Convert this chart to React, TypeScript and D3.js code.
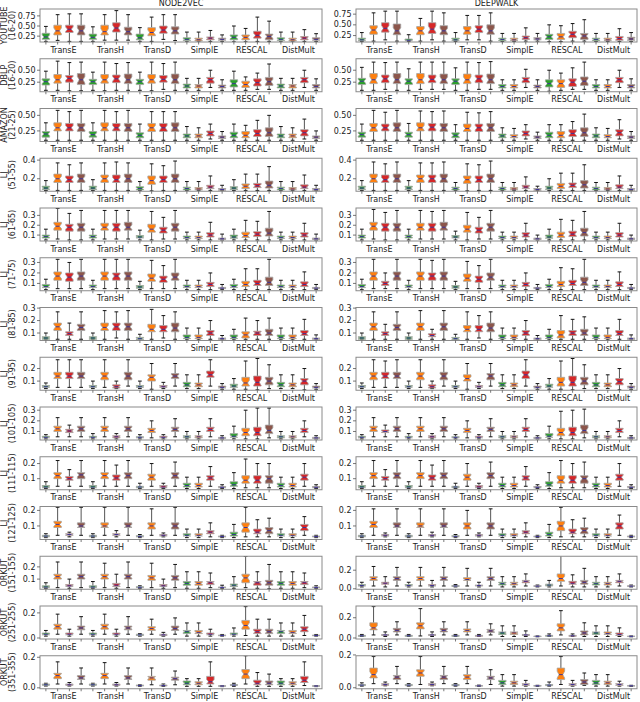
import React from "react";
import * as d3 from "d3";

type Stat = [number, number, number, number, number]; // [whisker low, q1, median, q3, whisker high]

const COLUMN_TITLES = ["NODE2VEC", "DEEPWALK"];
const METHODS = ["TransE", "TransH", "TransD", "SimplE", "RESCAL", "DistMult"];
const ROW_LABELS: [string, string][] = [
  ["YOUTUBE", "(16-20)"], ["DBLP", "(16-20)"], ["AMAZON", "(21-25)"],
  ["LJ", "(51-55)"], ["LJ", "(61-65)"], ["LJ", "(71-75)"], ["LJ", "(81-85)"],
  ["LJ", "(91-95)"], ["LJ", "(101-105)"], ["LJ", "(111-115)"], ["LJ", "(121-125)"],
  ["ORKUT", "(151-155)"], ["ORKUT", "(251-255)"], ["ORKUT", "(351-355)"],
];

// y tick values per row: [node2vec, deepwalk]
const Y_TICKS: [number[], number[]][] = [
  [[0.25, 0.5, 0.75], [0.25, 0.5, 0.75]],
  [[0.25, 0.5], [0.25, 0.5]],
  [[0.25, 0.5], [0.25, 0.5]],
  [[0.2, 0.4], [0.2, 0.4]],
  [[0.1, 0.2, 0.3], [0.1, 0.2, 0.3]],
  [[0.1, 0.2, 0.3], [0.1, 0.2, 0.3]],
  [[0.1, 0.2, 0.3], [0.1, 0.2, 0.3]],
  [[0.1, 0.2], [0.1, 0.2]],
  [[0.1, 0.2, 0.3], [0.1, 0.2, 0.3]],
  [[0.1, 0.2], [0.1, 0.2]],
  [[0.1, 0.2], [0.1, 0.2]],
  [[0.1, 0.2], [0.0, 0.2]],
  [[0.0, 0.2], [0.0, 0.2]],
  [[0.0, 0.2], [0.0, 0.2]],
];
const Y_DOMAINS: [[number, number], [number, number]][] = [
  [[0.105, 0.92], [0.1, 0.87]],
  [[0.05, 0.74], [0.05, 0.74]],
  [[0.08, 0.61], [0.08, 0.61]],
  [[0.066, 0.42], [0.066, 0.42]],
  [[0.04, 0.375], [0.04, 0.375]],
  [[0.03, 0.345], [0.03, 0.345]],
  [[0.04, 0.305], [0.04, 0.305]],
  [[0.027, 0.29], [0.027, 0.29]],
  [[0.02, 0.33], [0.02, 0.33]],
  [[0.027, 0.245], [0.027, 0.245]],
  [[0.013, 0.225], [0.013, 0.225]],
  [[0.017, 0.287], [-0.005, 0.35]],
  [[-0.008, 0.255], [-0.01, 0.316]],
  [[-0.006, 0.21], [-0.006, 0.195]],
];

// ---- box statistics, 24 boxes per panel (6 methods x 4 variants) ----
const youtubeN2V: Stat[] = [
  [0.12, 0.17, 0.23, 0.32, 0.49], [0.145, 0.28, 0.38, 0.52, 0.78], [0.12, 0.34, 0.42, 0.52, 0.8], [0.12, 0.28, 0.38, 0.52, 0.8],
  [0.12, 0.17, 0.22, 0.3, 0.48], [0.15, 0.28, 0.36, 0.52, 0.78], [0.15, 0.35, 0.45, 0.58, 0.88], [0.15, 0.28, 0.36, 0.47, 0.78],
  [0.12, 0.16, 0.21, 0.3, 0.46], [0.12, 0.26, 0.34, 0.46, 0.72], [0.17, 0.32, 0.4, 0.5, 0.78], [0.14, 0.3, 0.38, 0.48, 0.78],
  [0.11, 0.14, 0.17, 0.21, 0.35], [0.11, 0.13, 0.16, 0.2, 0.35], [0.12, 0.16, 0.2, 0.23, 0.39], [0.12, 0.15, 0.17, 0.2, 0.28],
  [0.11, 0.16, 0.22, 0.28, 0.5], [0.11, 0.16, 0.22, 0.28, 0.44], [0.12, 0.2, 0.27, 0.37, 0.72], [0.12, 0.16, 0.24, 0.3, 0.62],
  [0.11, 0.14, 0.17, 0.21, 0.35], [0.11, 0.13, 0.16, 0.2, 0.35], [0.12, 0.16, 0.2, 0.24, 0.41], [0.12, 0.15, 0.17, 0.21, 0.31],
];
const youtubeDW: Stat[] = [
  [0.11, 0.13, 0.15, 0.19, 0.32], [0.12, 0.28, 0.38, 0.48, 0.78], [0.15, 0.33, 0.42, 0.55, 0.82], [0.12, 0.27, 0.36, 0.52, 0.82],
  [0.11, 0.13, 0.14, 0.17, 0.27], [0.12, 0.27, 0.36, 0.46, 0.65], [0.15, 0.3, 0.4, 0.55, 0.82], [0.12, 0.27, 0.36, 0.48, 0.78],
  [0.11, 0.13, 0.15, 0.19, 0.32], [0.15, 0.28, 0.36, 0.46, 0.72], [0.15, 0.32, 0.4, 0.48, 0.72], [0.12, 0.28, 0.36, 0.5, 0.78],
  [0.11, 0.13, 0.16, 0.19, 0.3], [0.11, 0.13, 0.15, 0.19, 0.3], [0.12, 0.16, 0.2, 0.24, 0.43], [0.12, 0.15, 0.17, 0.2, 0.3],
  [0.11, 0.16, 0.22, 0.28, 0.5], [0.11, 0.16, 0.22, 0.3, 0.48], [0.12, 0.2, 0.28, 0.35, 0.53], [0.12, 0.16, 0.24, 0.3, 0.62],
  [0.11, 0.13, 0.16, 0.19, 0.3], [0.11, 0.13, 0.15, 0.19, 0.3], [0.11, 0.14, 0.18, 0.23, 0.41], [0.11, 0.14, 0.17, 0.21, 0.32],
];
const dblpN2V: Stat[] = [
  [0.08, 0.19, 0.26, 0.32, 0.48], [0.08, 0.23, 0.3, 0.41, 0.69], [0.07, 0.25, 0.33, 0.39, 0.66], [0.07, 0.2, 0.3, 0.43, 0.67],
  [0.08, 0.2, 0.26, 0.31, 0.46], [0.07, 0.23, 0.3, 0.41, 0.67], [0.08, 0.24, 0.32, 0.4, 0.64], [0.08, 0.22, 0.3, 0.42, 0.66],
  [0.08, 0.2, 0.26, 0.31, 0.46], [0.07, 0.23, 0.3, 0.41, 0.67], [0.1, 0.25, 0.31, 0.39, 0.64], [0.08, 0.22, 0.3, 0.42, 0.67],
  [0.08, 0.13, 0.17, 0.21, 0.33], [0.08, 0.13, 0.17, 0.2, 0.33], [0.14, 0.23, 0.3, 0.35, 0.5], [0.08, 0.13, 0.16, 0.19, 0.3],
  [0.08, 0.15, 0.22, 0.3, 0.48], [0.08, 0.14, 0.2, 0.27, 0.36], [0.1, 0.17, 0.24, 0.32, 0.44], [0.1, 0.18, 0.26, 0.35, 0.63],
  [0.08, 0.13, 0.17, 0.21, 0.33], [0.08, 0.13, 0.17, 0.2, 0.33], [0.14, 0.24, 0.3, 0.35, 0.5], [0.08, 0.13, 0.16, 0.2, 0.32],
];
const dblpDW: Stat[] = [
  [0.08, 0.2, 0.27, 0.33, 0.56], [0.08, 0.22, 0.3, 0.43, 0.67], [0.1, 0.24, 0.32, 0.4, 0.66], [0.08, 0.22, 0.3, 0.43, 0.67],
  [0.08, 0.2, 0.27, 0.32, 0.53], [0.1, 0.22, 0.3, 0.43, 0.67], [0.1, 0.24, 0.31, 0.4, 0.67], [0.1, 0.22, 0.3, 0.42, 0.67],
  [0.08, 0.2, 0.27, 0.32, 0.55], [0.08, 0.22, 0.3, 0.42, 0.67], [0.1, 0.24, 0.32, 0.4, 0.66], [0.1, 0.22, 0.3, 0.42, 0.68],
  [0.08, 0.13, 0.16, 0.2, 0.3], [0.08, 0.13, 0.16, 0.2, 0.3], [0.14, 0.24, 0.3, 0.35, 0.52], [0.08, 0.13, 0.16, 0.19, 0.3],
  [0.06, 0.15, 0.22, 0.3, 0.5], [0.08, 0.14, 0.22, 0.3, 0.44], [0.1, 0.16, 0.25, 0.32, 0.55], [0.1, 0.18, 0.27, 0.36, 0.67],
  [0.08, 0.13, 0.16, 0.2, 0.3], [0.08, 0.13, 0.16, 0.2, 0.3], [0.14, 0.24, 0.3, 0.35, 0.5], [0.08, 0.13, 0.16, 0.2, 0.32],
];
const amazonN2V: Stat[] = [
  [0.1, 0.15, 0.2, 0.24, 0.38], [0.1, 0.25, 0.3, 0.38, 0.58], [0.1, 0.25, 0.3, 0.37, 0.56], [0.1, 0.24, 0.3, 0.37, 0.58],
  [0.1, 0.15, 0.19, 0.24, 0.38], [0.1, 0.25, 0.3, 0.38, 0.58], [0.1, 0.25, 0.3, 0.37, 0.56], [0.1, 0.24, 0.3, 0.37, 0.58],
  [0.1, 0.14, 0.18, 0.22, 0.36], [0.1, 0.24, 0.3, 0.37, 0.56], [0.1, 0.24, 0.3, 0.37, 0.56], [0.1, 0.24, 0.3, 0.38, 0.56],
  [0.1, 0.14, 0.17, 0.2, 0.32], [0.1, 0.14, 0.17, 0.2, 0.3], [0.12, 0.17, 0.21, 0.25, 0.36], [0.1, 0.13, 0.15, 0.17, 0.24],
  [0.1, 0.14, 0.18, 0.23, 0.36], [0.1, 0.14, 0.18, 0.24, 0.34], [0.1, 0.16, 0.21, 0.27, 0.42], [0.1, 0.16, 0.22, 0.3, 0.5],
  [0.1, 0.14, 0.17, 0.2, 0.32], [0.1, 0.14, 0.17, 0.2, 0.3], [0.12, 0.17, 0.22, 0.27, 0.44], [0.1, 0.13, 0.15, 0.17, 0.25],
];
const amazonDW: Stat[] = [
  [0.1, 0.15, 0.19, 0.23, 0.36], [0.1, 0.24, 0.3, 0.37, 0.58], [0.1, 0.25, 0.3, 0.36, 0.55], [0.1, 0.24, 0.3, 0.38, 0.58],
  [0.1, 0.15, 0.19, 0.23, 0.37], [0.1, 0.25, 0.3, 0.38, 0.57], [0.1, 0.25, 0.31, 0.37, 0.56], [0.1, 0.24, 0.3, 0.37, 0.57],
  [0.1, 0.14, 0.18, 0.22, 0.35], [0.1, 0.24, 0.29, 0.36, 0.55], [0.1, 0.24, 0.3, 0.36, 0.54], [0.1, 0.24, 0.3, 0.37, 0.56],
  [0.1, 0.14, 0.17, 0.2, 0.3], [0.1, 0.14, 0.16, 0.19, 0.29], [0.12, 0.17, 0.21, 0.25, 0.35], [0.1, 0.13, 0.15, 0.17, 0.23],
  [0.1, 0.14, 0.18, 0.23, 0.35], [0.1, 0.14, 0.18, 0.24, 0.35], [0.1, 0.16, 0.21, 0.27, 0.4], [0.1, 0.16, 0.22, 0.3, 0.52],
  [0.1, 0.14, 0.17, 0.2, 0.3], [0.1, 0.14, 0.16, 0.19, 0.29], [0.12, 0.17, 0.22, 0.27, 0.43], [0.1, 0.13, 0.15, 0.17, 0.24],
];
const lj51N2V: Stat[] = [
  [0.075, 0.085, 0.1, 0.12, 0.18], [0.075, 0.16, 0.2, 0.25, 0.37], [0.075, 0.16, 0.19, 0.23, 0.35], [0.075, 0.16, 0.2, 0.25, 0.37],
  [0.075, 0.085, 0.1, 0.12, 0.19], [0.075, 0.16, 0.2, 0.24, 0.37], [0.075, 0.16, 0.19, 0.24, 0.38], [0.075, 0.16, 0.2, 0.25, 0.37],
  [0.075, 0.08, 0.095, 0.115, 0.17], [0.07, 0.14, 0.18, 0.23, 0.36], [0.075, 0.16, 0.19, 0.23, 0.34], [0.075, 0.16, 0.2, 0.25, 0.39],
  [0.075, 0.08, 0.095, 0.11, 0.17], [0.075, 0.08, 0.09, 0.105, 0.17], [0.075, 0.095, 0.11, 0.13, 0.23], [0.075, 0.078, 0.085, 0.095, 0.13],
  [0.075, 0.085, 0.1, 0.115, 0.19], [0.075, 0.095, 0.12, 0.145, 0.25], [0.075, 0.105, 0.125, 0.15, 0.25], [0.075, 0.1, 0.13, 0.175, 0.33],
  [0.075, 0.08, 0.095, 0.11, 0.17], [0.075, 0.08, 0.09, 0.105, 0.17], [0.075, 0.095, 0.11, 0.135, 0.24], [0.075, 0.078, 0.085, 0.095, 0.13],
];
const lj51DW: Stat[] = [
  [0.075, 0.085, 0.1, 0.12, 0.18], [0.075, 0.16, 0.2, 0.25, 0.38], [0.075, 0.16, 0.19, 0.24, 0.36], [0.075, 0.16, 0.2, 0.25, 0.38],
  [0.075, 0.085, 0.1, 0.12, 0.18], [0.075, 0.16, 0.2, 0.24, 0.37], [0.075, 0.16, 0.2, 0.24, 0.37], [0.075, 0.16, 0.2, 0.25, 0.38],
  [0.075, 0.08, 0.095, 0.11, 0.16], [0.07, 0.15, 0.19, 0.23, 0.36], [0.075, 0.16, 0.19, 0.23, 0.35], [0.075, 0.16, 0.2, 0.25, 0.39],
  [0.075, 0.08, 0.095, 0.11, 0.16], [0.075, 0.08, 0.09, 0.105, 0.16], [0.075, 0.095, 0.11, 0.13, 0.22], [0.075, 0.078, 0.085, 0.095, 0.12],
  [0.075, 0.085, 0.1, 0.12, 0.2], [0.075, 0.095, 0.12, 0.15, 0.26], [0.075, 0.105, 0.13, 0.155, 0.26], [0.075, 0.1, 0.135, 0.18, 0.35],
  [0.075, 0.08, 0.095, 0.11, 0.16], [0.075, 0.08, 0.09, 0.105, 0.16], [0.075, 0.095, 0.11, 0.135, 0.23], [0.075, 0.078, 0.085, 0.095, 0.13],
];
const lj61N2V: Stat[] = [
  [0.05, 0.07, 0.085, 0.1, 0.16], [0.06, 0.15, 0.19, 0.23, 0.37], [0.05, 0.14, 0.18, 0.21, 0.32], [0.05, 0.14, 0.18, 0.22, 0.35],
  [0.05, 0.07, 0.085, 0.1, 0.16], [0.06, 0.15, 0.18, 0.22, 0.35], [0.06, 0.14, 0.18, 0.22, 0.35], [0.06, 0.15, 0.18, 0.23, 0.35],
  [0.05, 0.07, 0.08, 0.095, 0.15], [0.05, 0.13, 0.16, 0.21, 0.34], [0.06, 0.12, 0.15, 0.18, 0.28], [0.06, 0.14, 0.18, 0.22, 0.35],
  [0.05, 0.065, 0.075, 0.09, 0.13], [0.05, 0.065, 0.075, 0.09, 0.13], [0.05, 0.08, 0.1, 0.125, 0.23], [0.05, 0.055, 0.062, 0.07, 0.11],
  [0.05, 0.068, 0.08, 0.1, 0.16], [0.05, 0.075, 0.095, 0.13, 0.25], [0.05, 0.085, 0.11, 0.135, 0.24], [0.05, 0.09, 0.12, 0.17, 0.34],
  [0.05, 0.065, 0.075, 0.09, 0.13], [0.05, 0.065, 0.075, 0.09, 0.13], [0.05, 0.08, 0.1, 0.125, 0.22], [0.05, 0.055, 0.062, 0.07, 0.11],
];
const lj61DW: Stat[] = [
  [0.05, 0.07, 0.085, 0.1, 0.16], [0.06, 0.15, 0.19, 0.23, 0.36], [0.05, 0.14, 0.18, 0.22, 0.33], [0.05, 0.14, 0.18, 0.22, 0.35],
  [0.05, 0.07, 0.085, 0.1, 0.16], [0.06, 0.15, 0.18, 0.22, 0.35], [0.06, 0.14, 0.18, 0.22, 0.34], [0.06, 0.15, 0.18, 0.23, 0.35],
  [0.05, 0.07, 0.08, 0.095, 0.14], [0.05, 0.13, 0.16, 0.2, 0.33], [0.06, 0.12, 0.15, 0.18, 0.28], [0.06, 0.14, 0.18, 0.22, 0.35],
  [0.05, 0.065, 0.075, 0.09, 0.13], [0.05, 0.065, 0.075, 0.09, 0.13], [0.05, 0.08, 0.1, 0.125, 0.22], [0.05, 0.055, 0.062, 0.07, 0.1],
  [0.05, 0.068, 0.08, 0.1, 0.16], [0.05, 0.075, 0.1, 0.13, 0.26], [0.05, 0.085, 0.11, 0.14, 0.25], [0.05, 0.09, 0.125, 0.17, 0.34],
  [0.05, 0.065, 0.075, 0.09, 0.13], [0.05, 0.065, 0.075, 0.09, 0.13], [0.05, 0.08, 0.1, 0.125, 0.22], [0.05, 0.055, 0.062, 0.07, 0.1],
];
const lj71N2V: Stat[] = [
  [0.04, 0.06, 0.07, 0.09, 0.14], [0.05, 0.13, 0.17, 0.21, 0.33], [0.05, 0.12, 0.16, 0.2, 0.3], [0.05, 0.13, 0.17, 0.21, 0.33],
  [0.04, 0.06, 0.07, 0.085, 0.13], [0.05, 0.13, 0.17, 0.21, 0.33], [0.05, 0.13, 0.17, 0.2, 0.33], [0.05, 0.13, 0.17, 0.21, 0.33],
  [0.04, 0.055, 0.065, 0.08, 0.12], [0.05, 0.12, 0.15, 0.19, 0.32], [0.05, 0.11, 0.14, 0.17, 0.27], [0.05, 0.13, 0.16, 0.2, 0.33],
  [0.04, 0.06, 0.07, 0.085, 0.13], [0.04, 0.06, 0.07, 0.085, 0.13], [0.04, 0.07, 0.09, 0.11, 0.2], [0.04, 0.05, 0.055, 0.062, 0.09],
  [0.04, 0.06, 0.07, 0.09, 0.14], [0.04, 0.07, 0.09, 0.12, 0.24], [0.04, 0.08, 0.1, 0.13, 0.24], [0.04, 0.08, 0.11, 0.16, 0.33],
  [0.04, 0.06, 0.07, 0.085, 0.13], [0.04, 0.06, 0.07, 0.085, 0.13], [0.04, 0.07, 0.09, 0.115, 0.21], [0.04, 0.05, 0.055, 0.062, 0.09],
];
const lj71DW: Stat[] = [
  [0.04, 0.06, 0.07, 0.09, 0.14], [0.05, 0.13, 0.17, 0.21, 0.33], [0.05, 0.08, 0.1, 0.12, 0.2], [0.05, 0.13, 0.17, 0.21, 0.33],
  [0.04, 0.06, 0.07, 0.085, 0.13], [0.05, 0.13, 0.17, 0.21, 0.33], [0.05, 0.13, 0.17, 0.2, 0.32], [0.05, 0.13, 0.17, 0.21, 0.33],
  [0.04, 0.055, 0.065, 0.08, 0.12], [0.05, 0.12, 0.15, 0.19, 0.31], [0.05, 0.11, 0.14, 0.17, 0.27], [0.05, 0.13, 0.16, 0.2, 0.33],
  [0.04, 0.06, 0.07, 0.085, 0.13], [0.04, 0.06, 0.07, 0.085, 0.13], [0.04, 0.07, 0.09, 0.11, 0.2], [0.04, 0.05, 0.055, 0.062, 0.09],
  [0.04, 0.06, 0.07, 0.09, 0.14], [0.04, 0.07, 0.09, 0.12, 0.25], [0.04, 0.08, 0.1, 0.13, 0.24], [0.04, 0.08, 0.11, 0.16, 0.33],
  [0.04, 0.06, 0.07, 0.085, 0.13], [0.04, 0.06, 0.07, 0.085, 0.13], [0.04, 0.07, 0.09, 0.115, 0.21], [0.04, 0.05, 0.055, 0.062, 0.09],
];
const lj81N2V: Stat[] = [
  [0.045, 0.05, 0.06, 0.07, 0.1], [0.05, 0.12, 0.15, 0.18, 0.27], [0.05, 0.08, 0.095, 0.11, 0.18], [0.05, 0.12, 0.145, 0.17, 0.27],
  [0.045, 0.05, 0.06, 0.07, 0.1], [0.05, 0.12, 0.145, 0.18, 0.28], [0.06, 0.12, 0.15, 0.18, 0.27], [0.05, 0.12, 0.15, 0.18, 0.28],
  [0.045, 0.048, 0.055, 0.065, 0.09], [0.05, 0.11, 0.13, 0.17, 0.29], [0.06, 0.11, 0.13, 0.16, 0.24], [0.05, 0.11, 0.14, 0.18, 0.27],
  [0.045, 0.055, 0.065, 0.085, 0.14], [0.045, 0.055, 0.065, 0.085, 0.14], [0.05, 0.08, 0.1, 0.12, 0.2], [0.045, 0.05, 0.055, 0.06, 0.08],
  [0.045, 0.055, 0.065, 0.085, 0.13], [0.05, 0.06, 0.085, 0.11, 0.22], [0.05, 0.08, 0.1, 0.115, 0.2], [0.05, 0.08, 0.1, 0.13, 0.22],
  [0.045, 0.055, 0.065, 0.085, 0.14], [0.045, 0.055, 0.065, 0.085, 0.14], [0.05, 0.08, 0.095, 0.12, 0.21], [0.045, 0.05, 0.055, 0.06, 0.085],
];
const lj81DW: Stat[] = [
  [0.045, 0.05, 0.06, 0.07, 0.1], [0.05, 0.12, 0.15, 0.18, 0.27], [0.05, 0.08, 0.095, 0.11, 0.17], [0.05, 0.12, 0.145, 0.17, 0.27],
  [0.045, 0.05, 0.06, 0.07, 0.1], [0.05, 0.12, 0.15, 0.18, 0.28], [0.05, 0.07, 0.08, 0.095, 0.13], [0.05, 0.12, 0.15, 0.18, 0.28],
  [0.045, 0.048, 0.055, 0.065, 0.09], [0.05, 0.11, 0.13, 0.16, 0.27], [0.06, 0.11, 0.13, 0.16, 0.24], [0.05, 0.11, 0.14, 0.18, 0.27],
  [0.045, 0.055, 0.065, 0.085, 0.14], [0.045, 0.055, 0.065, 0.085, 0.14], [0.05, 0.08, 0.1, 0.12, 0.2], [0.045, 0.05, 0.055, 0.06, 0.08],
  [0.045, 0.055, 0.065, 0.085, 0.13], [0.05, 0.06, 0.085, 0.12, 0.24], [0.05, 0.08, 0.1, 0.12, 0.21], [0.05, 0.08, 0.1, 0.13, 0.23],
  [0.045, 0.055, 0.065, 0.085, 0.14], [0.045, 0.055, 0.065, 0.085, 0.14], [0.05, 0.08, 0.095, 0.12, 0.21], [0.045, 0.05, 0.055, 0.06, 0.085],
];
const lj91N2V: Stat[] = [
  [0.04, 0.05, 0.055, 0.065, 0.085], [0.05, 0.12, 0.14, 0.17, 0.27], [0.05, 0.12, 0.14, 0.17, 0.27], [0.05, 0.12, 0.14, 0.17, 0.27],
  [0.04, 0.05, 0.055, 0.065, 0.1], [0.05, 0.11, 0.14, 0.17, 0.27], [0.04, 0.045, 0.055, 0.07, 0.1], [0.06, 0.11, 0.14, 0.17, 0.27],
  [0.04, 0.05, 0.055, 0.065, 0.1], [0.035, 0.1, 0.13, 0.15, 0.24], [0.04, 0.05, 0.055, 0.065, 0.09], [0.06, 0.12, 0.14, 0.16, 0.24],
  [0.04, 0.055, 0.07, 0.09, 0.15], [0.04, 0.055, 0.07, 0.085, 0.15], [0.06, 0.13, 0.15, 0.18, 0.27], [0.035, 0.045, 0.05, 0.06, 0.08],
  [0.035, 0.05, 0.06, 0.075, 0.12], [0.035, 0.06, 0.085, 0.13, 0.26], [0.03, 0.06, 0.09, 0.14, 0.28], [0.04, 0.07, 0.1, 0.13, 0.23],
  [0.04, 0.055, 0.07, 0.09, 0.15], [0.04, 0.055, 0.07, 0.085, 0.15], [0.03, 0.07, 0.1, 0.12, 0.2], [0.035, 0.045, 0.05, 0.06, 0.08],
];
const lj91DW: Stat[] = [
  [0.04, 0.05, 0.055, 0.065, 0.085], [0.05, 0.11, 0.14, 0.17, 0.27], [0.05, 0.12, 0.14, 0.17, 0.26], [0.05, 0.12, 0.14, 0.17, 0.27],
  [0.04, 0.05, 0.055, 0.065, 0.1], [0.05, 0.11, 0.14, 0.17, 0.27], [0.04, 0.045, 0.055, 0.07, 0.1], [0.06, 0.11, 0.14, 0.17, 0.27],
  [0.04, 0.05, 0.055, 0.065, 0.1], [0.035, 0.1, 0.12, 0.15, 0.24], [0.04, 0.05, 0.055, 0.065, 0.09], [0.06, 0.11, 0.14, 0.16, 0.24],
  [0.04, 0.055, 0.07, 0.09, 0.15], [0.04, 0.055, 0.07, 0.085, 0.15], [0.06, 0.12, 0.15, 0.18, 0.27], [0.035, 0.045, 0.05, 0.06, 0.08],
  [0.035, 0.05, 0.06, 0.075, 0.12], [0.035, 0.06, 0.09, 0.13, 0.26], [0.03, 0.06, 0.09, 0.14, 0.28], [0.04, 0.07, 0.1, 0.13, 0.23],
  [0.04, 0.055, 0.07, 0.09, 0.15], [0.04, 0.055, 0.07, 0.085, 0.15], [0.03, 0.07, 0.095, 0.12, 0.2], [0.035, 0.045, 0.05, 0.06, 0.08],
];
const lj101N2V: Stat[] = [
  [0.03, 0.04, 0.045, 0.055, 0.07], [0.05, 0.1, 0.125, 0.15, 0.23], [0.05, 0.09, 0.105, 0.12, 0.16], [0.05, 0.1, 0.125, 0.15, 0.23],
  [0.03, 0.04, 0.045, 0.055, 0.08], [0.05, 0.1, 0.125, 0.15, 0.23], [0.03, 0.04, 0.05, 0.06, 0.08], [0.05, 0.1, 0.125, 0.15, 0.23],
  [0.03, 0.04, 0.045, 0.05, 0.07], [0.04, 0.09, 0.11, 0.13, 0.2], [0.03, 0.04, 0.045, 0.055, 0.07], [0.05, 0.1, 0.12, 0.14, 0.22],
  [0.03, 0.04, 0.05, 0.06, 0.1], [0.03, 0.04, 0.05, 0.06, 0.1], [0.05, 0.1, 0.12, 0.14, 0.22], [0.03, 0.035, 0.04, 0.045, 0.06],
  [0.03, 0.045, 0.055, 0.08, 0.15], [0.03, 0.06, 0.09, 0.13, 0.3], [0.03, 0.06, 0.09, 0.14, 0.32], [0.04, 0.08, 0.11, 0.16, 0.32],
  [0.03, 0.04, 0.05, 0.06, 0.1], [0.03, 0.04, 0.05, 0.06, 0.1], [0.05, 0.09, 0.11, 0.13, 0.2], [0.03, 0.035, 0.04, 0.045, 0.06],
];
const lj101DW: Stat[] = [
  [0.03, 0.04, 0.045, 0.055, 0.07], [0.05, 0.1, 0.125, 0.15, 0.23], [0.05, 0.09, 0.1, 0.115, 0.16], [0.05, 0.1, 0.125, 0.15, 0.23],
  [0.03, 0.04, 0.045, 0.055, 0.08], [0.05, 0.1, 0.125, 0.15, 0.23], [0.03, 0.04, 0.05, 0.06, 0.08], [0.05, 0.1, 0.125, 0.15, 0.23],
  [0.03, 0.04, 0.045, 0.05, 0.07], [0.04, 0.09, 0.11, 0.13, 0.2], [0.03, 0.04, 0.045, 0.055, 0.07], [0.05, 0.1, 0.12, 0.14, 0.22],
  [0.03, 0.04, 0.05, 0.06, 0.1], [0.03, 0.04, 0.05, 0.06, 0.1], [0.05, 0.1, 0.12, 0.14, 0.22], [0.03, 0.035, 0.04, 0.045, 0.06],
  [0.03, 0.045, 0.055, 0.08, 0.15], [0.03, 0.06, 0.09, 0.13, 0.29], [0.03, 0.06, 0.09, 0.14, 0.3], [0.04, 0.08, 0.11, 0.16, 0.31],
  [0.03, 0.04, 0.05, 0.06, 0.1], [0.03, 0.04, 0.05, 0.06, 0.1], [0.05, 0.09, 0.11, 0.13, 0.2], [0.03, 0.035, 0.04, 0.045, 0.06],
];
const lj111N2V: Stat[] = [
  [0.035, 0.04, 0.045, 0.055, 0.08], [0.05, 0.1, 0.12, 0.14, 0.22], [0.05, 0.09, 0.1, 0.115, 0.16], [0.05, 0.1, 0.125, 0.14, 0.22],
  [0.035, 0.04, 0.045, 0.055, 0.08], [0.05, 0.1, 0.12, 0.14, 0.22], [0.05, 0.09, 0.105, 0.125, 0.19], [0.05, 0.1, 0.12, 0.14, 0.22],
  [0.035, 0.04, 0.045, 0.05, 0.07], [0.05, 0.09, 0.11, 0.13, 0.2], [0.035, 0.04, 0.045, 0.055, 0.07], [0.05, 0.1, 0.12, 0.14, 0.21],
  [0.035, 0.045, 0.055, 0.07, 0.11], [0.035, 0.045, 0.055, 0.07, 0.11], [0.05, 0.09, 0.105, 0.12, 0.18], [0.035, 0.04, 0.043, 0.048, 0.06],
  [0.035, 0.05, 0.06, 0.08, 0.14], [0.04, 0.07, 0.09, 0.12, 0.23], [0.04, 0.07, 0.09, 0.12, 0.2], [0.04, 0.07, 0.1, 0.12, 0.2],
  [0.035, 0.045, 0.055, 0.07, 0.11], [0.035, 0.045, 0.055, 0.07, 0.11], [0.05, 0.09, 0.11, 0.13, 0.2], [0.035, 0.04, 0.043, 0.048, 0.06],
];
const lj111DW: Stat[] = [
  [0.035, 0.04, 0.045, 0.055, 0.08], [0.05, 0.1, 0.12, 0.14, 0.22], [0.05, 0.09, 0.1, 0.115, 0.16], [0.05, 0.1, 0.12, 0.14, 0.22],
  [0.035, 0.04, 0.045, 0.055, 0.08], [0.05, 0.1, 0.12, 0.14, 0.22], [0.05, 0.09, 0.105, 0.125, 0.19], [0.05, 0.1, 0.12, 0.14, 0.22],
  [0.035, 0.04, 0.045, 0.05, 0.07], [0.05, 0.09, 0.11, 0.13, 0.2], [0.035, 0.04, 0.045, 0.055, 0.07], [0.05, 0.1, 0.12, 0.14, 0.21],
  [0.035, 0.045, 0.055, 0.07, 0.11], [0.035, 0.045, 0.055, 0.07, 0.11], [0.05, 0.09, 0.105, 0.12, 0.18], [0.035, 0.04, 0.043, 0.048, 0.06],
  [0.035, 0.05, 0.06, 0.08, 0.14], [0.04, 0.07, 0.09, 0.12, 0.22], [0.04, 0.07, 0.09, 0.12, 0.2], [0.04, 0.07, 0.1, 0.12, 0.21],
  [0.035, 0.045, 0.055, 0.07, 0.11], [0.035, 0.045, 0.055, 0.07, 0.11], [0.05, 0.09, 0.11, 0.13, 0.2], [0.035, 0.04, 0.043, 0.048, 0.06],
];
const lj121N2V: Stat[] = [
  [0.025, 0.03, 0.035, 0.04, 0.05], [0.04, 0.09, 0.11, 0.13, 0.22], [0.03, 0.04, 0.045, 0.05, 0.06], [0.04, 0.09, 0.1, 0.12, 0.22],
  [0.025, 0.03, 0.035, 0.04, 0.05], [0.04, 0.09, 0.1, 0.12, 0.22], [0.03, 0.04, 0.045, 0.05, 0.07], [0.04, 0.09, 0.1, 0.12, 0.22],
  [0.025, 0.03, 0.033, 0.037, 0.045], [0.04, 0.08, 0.1, 0.12, 0.21], [0.03, 0.035, 0.04, 0.045, 0.055], [0.04, 0.08, 0.1, 0.12, 0.22],
  [0.025, 0.035, 0.04, 0.05, 0.08], [0.025, 0.035, 0.04, 0.05, 0.08], [0.03, 0.05, 0.06, 0.07, 0.12], [0.025, 0.03, 0.032, 0.035, 0.04],
  [0.025, 0.035, 0.045, 0.06, 0.11], [0.03, 0.06, 0.09, 0.12, 0.22], [0.03, 0.05, 0.06, 0.08, 0.14], [0.03, 0.05, 0.07, 0.09, 0.15],
  [0.025, 0.035, 0.04, 0.05, 0.08], [0.025, 0.035, 0.04, 0.05, 0.08], [0.04, 0.07, 0.09, 0.11, 0.16], [0.025, 0.03, 0.032, 0.035, 0.04],
];
const lj121DW: Stat[] = [
  [0.025, 0.03, 0.035, 0.04, 0.05], [0.04, 0.09, 0.11, 0.13, 0.21], [0.03, 0.035, 0.04, 0.045, 0.055], [0.04, 0.09, 0.1, 0.12, 0.21],
  [0.025, 0.03, 0.035, 0.04, 0.05], [0.04, 0.09, 0.1, 0.12, 0.21], [0.03, 0.035, 0.04, 0.045, 0.06], [0.04, 0.09, 0.1, 0.12, 0.21],
  [0.025, 0.03, 0.033, 0.037, 0.045], [0.04, 0.08, 0.1, 0.12, 0.2], [0.03, 0.035, 0.04, 0.045, 0.055], [0.04, 0.08, 0.1, 0.12, 0.21],
  [0.025, 0.035, 0.04, 0.05, 0.08], [0.025, 0.035, 0.04, 0.05, 0.08], [0.03, 0.05, 0.06, 0.07, 0.12], [0.025, 0.03, 0.032, 0.035, 0.04],
  [0.025, 0.035, 0.045, 0.06, 0.11], [0.03, 0.07, 0.1, 0.13, 0.22], [0.03, 0.05, 0.06, 0.08, 0.14], [0.03, 0.05, 0.07, 0.09, 0.15],
  [0.025, 0.035, 0.04, 0.05, 0.08], [0.025, 0.035, 0.04, 0.05, 0.08], [0.04, 0.08, 0.1, 0.12, 0.17], [0.025, 0.03, 0.032, 0.035, 0.04],
];
const orkut151N2V: Stat[] = [
  [0.025, 0.03, 0.035, 0.045, 0.07], [0.03, 0.1, 0.12, 0.14, 0.24], [0.025, 0.04, 0.045, 0.055, 0.1], [0.03, 0.1, 0.12, 0.14, 0.24],
  [0.025, 0.03, 0.035, 0.045, 0.08], [0.03, 0.1, 0.12, 0.14, 0.23], [0.025, 0.04, 0.05, 0.065, 0.14], [0.03, 0.1, 0.12, 0.14, 0.24],
  [0.025, 0.03, 0.033, 0.037, 0.045], [0.03, 0.09, 0.11, 0.13, 0.23], [0.025, 0.04, 0.045, 0.055, 0.1], [0.03, 0.09, 0.11, 0.13, 0.22],
  [0.025, 0.05, 0.065, 0.08, 0.16], [0.025, 0.05, 0.065, 0.08, 0.16], [0.03, 0.055, 0.07, 0.08, 0.15], [0.025, 0.03, 0.032, 0.035, 0.05],
  [0.025, 0.04, 0.05, 0.06, 0.12], [0.03, 0.07, 0.11, 0.14, 0.285], [0.025, 0.05, 0.07, 0.08, 0.16], [0.02, 0.05, 0.07, 0.09, 0.22],
  [0.025, 0.05, 0.065, 0.08, 0.16], [0.025, 0.05, 0.065, 0.08, 0.16], [0.03, 0.055, 0.07, 0.08, 0.15], [0.025, 0.03, 0.032, 0.035, 0.045],
];
const orkut151DW: Stat[] = [
  [0.02, 0.03, 0.035, 0.045, 0.07], [0.03, 0.09, 0.11, 0.13, 0.24], [0.02, 0.05, 0.06, 0.07, 0.13], [0.03, 0.09, 0.11, 0.13, 0.23],
  [0.02, 0.03, 0.035, 0.045, 0.07], [0.03, 0.09, 0.11, 0.13, 0.23], [0.02, 0.03, 0.035, 0.045, 0.09], [0.03, 0.09, 0.11, 0.13, 0.23],
  [0.02, 0.025, 0.03, 0.035, 0.045], [0.03, 0.09, 0.1, 0.12, 0.22], [0.02, 0.03, 0.035, 0.04, 0.07], [0.03, 0.09, 0.11, 0.13, 0.22],
  [0.02, 0.04, 0.055, 0.07, 0.13], [0.02, 0.04, 0.055, 0.07, 0.13], [0.03, 0.065, 0.08, 0.09, 0.16], [0.02, 0.025, 0.028, 0.032, 0.04],
  [0.02, 0.03, 0.04, 0.05, 0.09], [0.03, 0.08, 0.11, 0.16, 0.36], [0.02, 0.05, 0.06, 0.08, 0.15], [0.02, 0.05, 0.07, 0.09, 0.22],
  [0.02, 0.04, 0.055, 0.07, 0.13], [0.02, 0.04, 0.055, 0.07, 0.13], [0.03, 0.065, 0.08, 0.09, 0.16], [0.02, 0.025, 0.028, 0.032, 0.04],
];
const orkut251N2V: Stat[] = [
  [0.015, 0.025, 0.03, 0.04, 0.06], [0.03, 0.07, 0.09, 0.11, 0.19], [0.015, 0.025, 0.03, 0.04, 0.07], [0.03, 0.065, 0.08, 0.095, 0.17],
  [0.015, 0.025, 0.03, 0.04, 0.06], [0.03, 0.07, 0.09, 0.11, 0.19], [0.015, 0.025, 0.03, 0.04, 0.07], [0.03, 0.065, 0.08, 0.095, 0.17],
  [0.015, 0.02, 0.025, 0.03, 0.035], [0.03, 0.06, 0.075, 0.09, 0.15], [0.015, 0.02, 0.025, 0.03, 0.045], [0.03, 0.06, 0.075, 0.095, 0.16],
  [0.015, 0.035, 0.05, 0.06, 0.12], [0.015, 0.035, 0.045, 0.06, 0.12], [0.015, 0.025, 0.03, 0.04, 0.07], [0.015, 0.018, 0.02, 0.023, 0.028],
  [0.015, 0.025, 0.03, 0.04, 0.08], [0.02, 0.07, 0.1, 0.14, 0.25], [0.015, 0.035, 0.05, 0.07, 0.15], [0.015, 0.035, 0.05, 0.07, 0.15],
  [0.015, 0.035, 0.05, 0.06, 0.12], [0.015, 0.035, 0.045, 0.06, 0.12], [0.02, 0.05, 0.07, 0.09, 0.18], [0.015, 0.018, 0.02, 0.023, 0.028],
];
const orkut251DW: Stat[] = [
  [0.015, 0.018, 0.022, 0.026, 0.035], [0.03, 0.08, 0.1, 0.15, 0.31], [0.015, 0.025, 0.03, 0.035, 0.06], [0.03, 0.06, 0.075, 0.095, 0.16],
  [0.015, 0.018, 0.022, 0.026, 0.035], [0.02, 0.09, 0.12, 0.15, 0.29], [0.015, 0.025, 0.03, 0.035, 0.06], [0.03, 0.06, 0.075, 0.095, 0.16],
  [0.015, 0.018, 0.022, 0.026, 0.035], [0.03, 0.06, 0.075, 0.09, 0.16], [0.015, 0.018, 0.022, 0.026, 0.035], [0.03, 0.055, 0.07, 0.085, 0.14],
  [0.015, 0.035, 0.05, 0.06, 0.12], [0.015, 0.035, 0.05, 0.06, 0.12], [0.015, 0.025, 0.03, 0.035, 0.07], [0.012, 0.014, 0.016, 0.018, 0.02],
  [0.015, 0.018, 0.022, 0.026, 0.04], [0.03, 0.07, 0.1, 0.14, 0.27], [0.015, 0.018, 0.022, 0.026, 0.04], [0.015, 0.03, 0.05, 0.07, 0.15],
  [0.015, 0.035, 0.05, 0.06, 0.12], [0.015, 0.035, 0.045, 0.06, 0.12], [0.015, 0.025, 0.035, 0.05, 0.1], [0.012, 0.014, 0.016, 0.018, 0.02],
];
const orkut351N2V: Stat[] = [
  [0.012, 0.017, 0.02, 0.025, 0.03], [0.025, 0.06, 0.08, 0.095, 0.17], [0.012, 0.017, 0.02, 0.025, 0.035], [0.025, 0.055, 0.065, 0.08, 0.13],
  [0.012, 0.017, 0.02, 0.025, 0.03], [0.025, 0.06, 0.08, 0.095, 0.165], [0.012, 0.017, 0.02, 0.025, 0.035], [0.025, 0.055, 0.065, 0.08, 0.13],
  [0.01, 0.013, 0.015, 0.018, 0.02], [0.02, 0.05, 0.065, 0.075, 0.13], [0.01, 0.013, 0.015, 0.018, 0.025], [0.02, 0.05, 0.06, 0.07, 0.11],
  [0.01, 0.02, 0.03, 0.045, 0.06], [0.01, 0.02, 0.03, 0.04, 0.06], [0.01, 0.025, 0.04, 0.075, 0.17], [0.008, 0.01, 0.012, 0.014, 0.015],
  [0.01, 0.015, 0.018, 0.022, 0.03], [0.025, 0.06, 0.09, 0.12, 0.21], [0.01, 0.02, 0.03, 0.05, 0.1], [0.01, 0.02, 0.03, 0.045, 0.09],
  [0.01, 0.02, 0.03, 0.045, 0.06], [0.01, 0.02, 0.03, 0.04, 0.06], [0.015, 0.035, 0.05, 0.075, 0.17], [0.008, 0.01, 0.012, 0.014, 0.015],
];
const orkut351DW: Stat[] = [
  [0.01, 0.013, 0.016, 0.02, 0.03], [0.025, 0.06, 0.08, 0.12, 0.19], [0.012, 0.016, 0.02, 0.025, 0.035], [0.025, 0.05, 0.065, 0.075, 0.13],
  [0.01, 0.013, 0.016, 0.02, 0.025], [0.02, 0.07, 0.09, 0.11, 0.19], [0.012, 0.016, 0.02, 0.025, 0.035], [0.025, 0.05, 0.065, 0.075, 0.13],
  [0.01, 0.013, 0.016, 0.02, 0.025], [0.025, 0.05, 0.065, 0.08, 0.13], [0.008, 0.01, 0.012, 0.014, 0.016], [0.02, 0.05, 0.06, 0.07, 0.11],
  [0.01, 0.02, 0.03, 0.045, 0.08], [0.01, 0.02, 0.03, 0.04, 0.08], [0.01, 0.015, 0.02, 0.025, 0.045], [0.008, 0.01, 0.012, 0.014, 0.015],
  [0.01, 0.013, 0.016, 0.02, 0.035], [0.02, 0.05, 0.08, 0.12, 0.19], [0.01, 0.015, 0.02, 0.025, 0.045], [0.015, 0.02, 0.035, 0.05, 0.09],
  [0.01, 0.02, 0.03, 0.045, 0.08], [0.01, 0.02, 0.03, 0.04, 0.08], [0.01, 0.015, 0.02, 0.025, 0.04], [0.008, 0.01, 0.012, 0.014, 0.015],
];

const PANELS: [Stat[], Stat[]][] = [
  [youtubeN2V, youtubeDW], [dblpN2V, dblpDW], [amazonN2V, amazonDW],
  [lj51N2V, lj51DW], [lj61N2V, lj61DW], [lj71N2V, lj71DW], [lj81N2V, lj81DW],
  [lj91N2V, lj91DW], [lj101N2V, lj101DW], [lj111N2V, lj111DW], [lj121N2V, lj121DW],
  [orkut151N2V, orkut151DW], [orkut251N2V, orkut251DW], [orkut351N2V, orkut351DW],
];

// ---- styling / layout ----
const W = 640;
const H = 702;
const FONT = "'DejaVu Sans', sans-serif";
const BOX_COLORS = ["#2ca02c", "#ff7f0e", "#d62728", "#8c564b"];
const MEDIAN_COLOR = "#3d3399";
const COL_X: [number, number][] = [[40, 322], [356, 637]];
const ROW_TOP0 = 9;
const ROW_PITCH = 49.75;
const PANEL_H = 33;

function boxPath(x0: number, x1: number, yq1: number, ymed: number, yq3: number, ci: number) {
  const inset = (x1 - x0) / 4;
  const lo = ymed + ci;
  const hi = ymed - ci;
  const p = d3.path();
  p.moveTo(x0, yq1);
  p.lineTo(x1, yq1);
  p.lineTo(x1, lo);
  p.lineTo(x1 - inset, ymed);
  p.lineTo(x1, hi);
  p.lineTo(x1, yq3);
  p.lineTo(x0, yq3);
  p.lineTo(x0, hi);
  p.lineTo(x0 + inset, ymed);
  p.lineTo(x0, lo);
  p.closePath();
  return p.toString();
}

function Panel({ row, col }: { row: number; col: number }) {
  const stats = PANELS[row][col];
  const [xl, xr] = COL_X[col];
  const top = ROW_TOP0 + row * ROW_PITCH;
  const bottom = top + PANEL_H;
  const x = d3.scaleLinear().domain([0.5, stats.length + 0.5]).range([xl, xr]);
  const y = d3.scaleLinear().domain(Y_DOMAINS[row][col]).range([bottom, top]);
  const fmt = d3.format(row < 3 ? ".2f" : ".1f");
  const bw = (x(2) - x(1)) * 0.64;
  const clipId = `clip-${row}-${col}`;
  return (
    <g>
      <defs>
        <clipPath id={clipId}>
          <rect x={xl} y={top} width={xr - xl} height={bottom - top} />
        </clipPath>
      </defs>
      <g clipPath={`url(#${clipId})`}>
        {stats.map((s, i) => {
          const cx = x(i + 1);
          const [lo, q1, med, q3, hi] = s;
          const yq1 = y(q1), yq3 = y(q3), ym = y(med);
          const ci = Math.abs(yq1 - yq3) * 0.3;
          const x0 = cx - bw / 2, x1 = cx + bw / 2;
          const inset = bw / 4;
          const capW = bw / 2;
          return (
            <g key={i}>
              <line x1={cx} x2={cx} y1={yq3} y2={y(hi)} stroke="#555" strokeWidth={1} />
              <line x1={cx} x2={cx} y1={yq1} y2={y(lo)} stroke="#555" strokeWidth={1} />
              <line x1={cx - capW / 2} x2={cx + capW / 2} y1={y(hi)} y2={y(hi)} stroke="#111" strokeWidth={1} />
              <line x1={cx - capW / 2} x2={cx + capW / 2} y1={y(lo)} y2={y(lo)} stroke="#111" strokeWidth={1} />
              <path d={boxPath(x0, x1, yq1, ym, yq3, ci)} fill={BOX_COLORS[i % 4]} stroke="#a5a5a5" strokeWidth={0.8} />
              <line x1={x0 + inset} x2={x1 - inset} y1={ym} y2={ym} stroke={MEDIAN_COLOR} strokeWidth={1} />
            </g>
          );
        })}
      </g>
      <rect x={xl} y={top} width={xr - xl} height={bottom - top} fill="none" stroke="#8a8a8a" strokeWidth={1} />
      {Y_TICKS[row][col].map((t) => (
        <g key={t}>
          <line x1={xl - 3} x2={xl} y1={y(t)} y2={y(t)} stroke="#555" strokeWidth={0.8} />
          <text x={xl - 4.5} y={y(t)} dy="0.33em" textAnchor="end" fontSize={8} fill="#222">{fmt(t)}</text>
        </g>
      ))}
      {stats.map((_, i) => (
        <line key={i} x1={x(i + 1)} x2={x(i + 1)} y1={bottom} y2={bottom + 2.5} stroke="#555" strokeWidth={0.8} />
      ))}
      {METHODS.map((m, g) => (
        <text key={m} x={x(g * 4 + 2.5)} y={bottom + 10.5} textAnchor="middle" fontSize={8} fill="#222">{m}</text>
      ))}
      {col === 0 && (
        <text transform={`translate(0, ${(top + bottom) / 2}) rotate(-90)`} textAnchor="middle" fontSize={8} fill="#222">
          <tspan x={0} y={6.5}>{ROW_LABELS[row][0]}</tspan>
          <tspan x={0} y={14.5}>{ROW_LABELS[row][1]}</tspan>
        </text>
      )}
    </g>
  );
}

export default function App() {
  return (
    <svg width={W} height={H} style={{ position: "absolute", left: 0, top: 0, background: "#fff" }} fontFamily={FONT}>
      <rect width={W} height={H} fill="#fff" />
      {COLUMN_TITLES.map((t, c) => (
        <text key={t} x={(COL_X[c][0] + COL_X[c][1]) / 2} y={5.5} textAnchor="middle" fontSize={8} fill="#222">{t}</text>
      ))}
      {PANELS.map((_, r) => [0, 1].map((c) => <Panel key={`${r}-${c}`} row={r} col={c} />))}
    </svg>
  );
}
